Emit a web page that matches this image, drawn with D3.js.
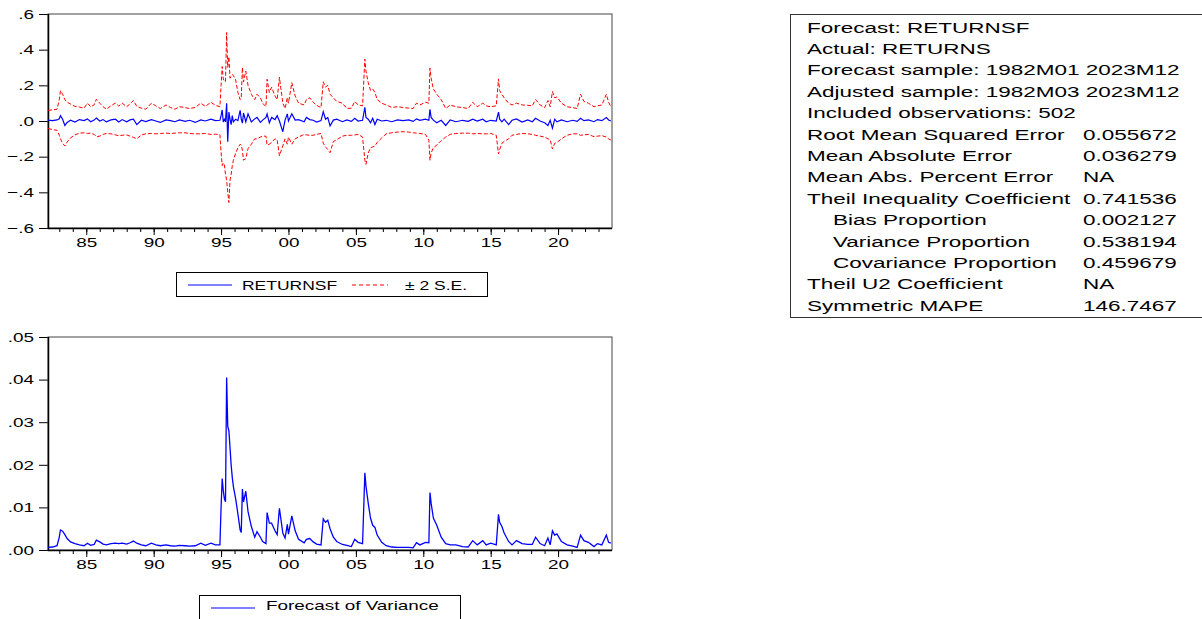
<!DOCTYPE html>
<html>
<head>
<meta charset="utf-8">
<script src="https://cdn.jsdelivr.net/npm/d3@7"></script>
<style>
  body { margin: 0; background: #fff; overflow: hidden; }
  svg text { font-family: "Liberation Sans", Arial, sans-serif; fill: #000; }
</style>
</head>
<body>
<svg id="chart" width="1202" height="619"></svg>
<script>
// monthly observations (sparser where the series is calm)
const months = [
  "1982-03","1982-07","1982-11","1983-01","1983-02","1983-04","1983-06","1983-08","1983-11","1984-03",
  "1984-07","1984-11","1985-02","1985-05","1985-08","1985-10","1986-01","1986-04","1986-07","1986-11",
  "1987-03","1987-06","1987-09","1988-01","1988-04","1988-07","1988-10","1989-02","1989-06","1989-11",
  "1990-03","1990-07","1990-12","1991-04","1991-08","1991-12","1992-05","1992-09","1993-02","1993-07",
  "1993-11","1994-04","1994-08","1994-12","1995-01","1995-02","1995-03","1995-04","1995-05","1995-06",
  "1995-07","1995-08","1995-09","1995-10","1995-11","1995-12","1996-02","1996-04","1996-06","1996-07",
  "1996-08","1996-09","1996-11","1997-01","1997-04","1997-07","1997-09","1997-12","1998-02","1998-05",
  "1998-06","1998-08","1998-10","1999-01","1999-03","1999-05","1999-08","1999-10","1999-12","2000-01",
  "2000-04","2000-07","2000-10","2001-03","2001-05","2001-08","2001-11","2002-02","2002-06","2002-08",
  "2002-10","2002-12","2003-02","2003-05","2003-08","2004-01","2004-05","2004-09","2004-12","2005-03",
  "2005-07","2005-09","2005-10","2005-12","2006-02","2006-04","2006-06","2006-08","2006-12","2007-04",
  "2007-09","2008-02","2008-07","2008-12","2009-04","2009-07","2009-10","2010-03","2010-06","2010-07",
  "2010-08","2010-10","2011-01","2011-05","2011-09","2012-01","2012-06","2012-12","2013-05","2013-09",
  "2014-01","2014-06","2014-09","2015-01","2015-06","2015-08","2015-09","2015-11","2016-01","2016-05",
  "2016-08","2016-12","2017-05","2017-10","2018-02","2018-05","2018-09","2019-01","2019-04","2019-06",
  "2019-08","2019-10","2019-12","2020-04","2020-09","2021-02","2021-06","2021-09","2021-12","2022-04",
  "2022-09","2022-12","2023-04","2023-08","2023-10","2023-12"
];

const returnsf = [
  0.005,0.002,0.006,0.012,0.030,0.010,-0.025,-0.008,0.004,-0.006,
  0.008,0.002,0.012,-0.004,0.005,0.016,0.000,0.008,-0.005,0.006,
  0.010,-0.006,0.008,-0.004,0.006,0.010,-0.020,0.004,-0.003,0.008,
  0.000,-0.008,0.006,0.002,-0.004,0.006,-0.002,0.004,-0.008,0.006,
  0.000,0.010,0.002,0.004,0.030,0.062,-0.005,0.010,-0.005,0.100,
  -0.116,0.050,0.010,-0.020,0.030,-0.005,0.010,0.002,0.060,0.010,
  -0.012,0.045,-0.005,0.040,-0.005,0.012,0.020,-0.008,0.005,0.020,
  0.040,-0.010,0.020,0.008,0.030,0.000,-0.060,0.005,0.040,0.000,
  0.040,0.005,0.008,-0.004,0.020,0.008,0.004,-0.006,0.002,0.052,
  0.010,0.020,-0.028,0.005,0.010,-0.004,0.006,-0.002,0.015,0.000,
  0.004,0.077,0.020,0.010,-0.010,0.015,-0.020,0.010,0.000,0.004,
  -0.004,0.006,0.002,0.006,-0.002,0.012,0.004,0.010,0.004,0.066,
  0.020,0.005,-0.010,0.004,-0.025,0.006,-0.004,0.004,-0.002,0.010,
  0.000,0.010,-0.004,0.004,0.000,0.050,0.010,-0.005,0.010,-0.020,
  0.004,0.012,-0.006,0.006,-0.004,0.015,0.000,-0.010,-0.025,0.004,
  -0.040,0.010,-0.005,0.006,-0.004,0.004,-0.002,0.015,0.002,0.006,
  -0.004,0.008,0.002,0.020,0.006,0.000
];

const upperSE = [
  0.060,0.062,0.066,0.120,0.170,0.150,0.120,0.105,0.095,0.082,
  0.078,0.072,0.100,0.080,0.090,0.122,0.100,0.080,0.066,0.086,
  0.100,0.084,0.100,0.080,0.096,0.115,0.082,0.072,0.066,0.100,
  0.085,0.070,0.090,0.076,0.066,0.080,0.075,0.070,0.076,0.100,
  0.082,0.105,0.088,0.080,0.200,0.305,0.235,0.225,0.220,0.496,
  0.300,0.360,0.240,0.250,0.260,0.255,0.230,0.160,0.120,0.130,
  0.300,0.220,0.280,0.200,0.150,0.120,0.150,0.130,0.100,0.080,
  0.234,0.160,0.190,0.140,0.120,0.245,0.100,0.070,0.130,0.100,
  0.215,0.140,0.100,0.090,0.120,0.130,0.105,0.088,0.075,0.220,
  0.190,0.200,0.150,0.130,0.110,0.100,0.070,0.072,0.110,0.090,
  0.085,0.347,0.280,0.215,0.172,0.180,0.160,0.120,0.100,0.090,
  0.076,0.080,0.076,0.072,0.070,0.100,0.090,0.105,0.100,0.296,
  0.240,0.180,0.150,0.120,0.070,0.090,0.080,0.075,0.070,0.105,
  0.080,0.100,0.085,0.080,0.085,0.236,0.170,0.150,0.130,0.100,
  0.090,0.100,0.090,0.088,0.085,0.120,0.090,0.075,0.115,0.080,
  0.165,0.130,0.135,0.100,0.080,0.075,0.070,0.150,0.110,0.100,
  0.080,0.085,0.090,0.150,0.105,0.080
];

const lowerSE = [
  -0.042,-0.048,-0.052,-0.080,-0.100,-0.125,-0.140,-0.118,-0.095,-0.078,
  -0.068,-0.066,-0.070,-0.068,-0.075,-0.088,-0.085,-0.075,-0.070,-0.072,
  -0.078,-0.082,-0.080,-0.078,-0.085,-0.092,-0.100,-0.078,-0.072,-0.070,
  -0.072,-0.070,-0.068,-0.070,-0.068,-0.066,-0.066,-0.070,-0.072,-0.072,
  -0.070,-0.075,-0.074,-0.076,-0.175,-0.250,-0.235,-0.245,-0.300,-0.330,
  -0.400,-0.457,-0.330,-0.300,-0.250,-0.220,-0.180,-0.150,-0.130,-0.135,
  -0.165,-0.220,-0.210,-0.155,-0.130,-0.100,-0.100,-0.090,-0.085,-0.085,
  -0.135,-0.130,-0.120,-0.100,-0.105,-0.195,-0.140,-0.100,-0.130,-0.090,
  -0.130,-0.100,-0.090,-0.075,-0.078,-0.080,-0.080,-0.075,-0.070,-0.125,
  -0.145,-0.160,-0.178,-0.115,-0.105,-0.085,-0.080,-0.080,-0.078,-0.075,
  -0.090,-0.220,-0.243,-0.180,-0.150,-0.145,-0.140,-0.120,-0.095,-0.072,
  -0.066,-0.062,-0.060,-0.062,-0.066,-0.068,-0.070,-0.075,-0.107,-0.220,
  -0.180,-0.150,-0.135,-0.110,-0.090,-0.075,-0.070,-0.068,-0.068,-0.072,
  -0.070,-0.072,-0.072,-0.070,-0.080,-0.185,-0.160,-0.125,-0.115,-0.100,
  -0.080,-0.075,-0.070,-0.072,-0.075,-0.080,-0.085,-0.090,-0.100,-0.105,
  -0.157,-0.125,-0.120,-0.100,-0.080,-0.072,-0.072,-0.080,-0.078,-0.075,
  -0.088,-0.085,-0.082,-0.090,-0.100,-0.107
];

const varianceF = [
  0.0006,0.0007,0.0010,0.0030,0.0047,0.0044,0.0036,0.0027,0.0019,0.0015,
  0.0012,0.0010,0.0016,0.0011,0.0013,0.0023,0.0019,0.0014,0.0012,0.0015,
  0.0016,0.0015,0.0016,0.0014,0.0017,0.0021,0.0016,0.0012,0.0010,0.0016,
  0.0012,0.0010,0.0012,0.0010,0.0009,0.0011,0.0010,0.0009,0.0010,0.0016,
  0.0011,0.0016,0.0012,0.0012,0.0100,0.0168,0.0140,0.0120,0.0113,0.0405,
  0.0290,0.0280,0.0240,0.0200,0.0170,0.0149,0.0120,0.0085,0.0047,0.0041,
  0.0143,0.0113,0.0138,0.0090,0.0055,0.0030,0.0043,0.0030,0.0020,0.0015,
  0.0088,0.0063,0.0063,0.0045,0.0036,0.0098,0.0040,0.0028,0.0060,0.0037,
  0.0080,0.0045,0.0025,0.0017,0.0025,0.0027,0.0019,0.0014,0.0012,0.0073,
  0.0065,0.0070,0.0050,0.0030,0.0020,0.0013,0.0011,0.0008,0.0025,0.0018,
  0.0015,0.0181,0.0150,0.0110,0.0075,0.0058,0.0053,0.0035,0.0018,0.0010,
  0.0007,0.0006,0.0006,0.0006,0.0005,0.0017,0.0012,0.0018,0.0017,0.0135,
  0.0110,0.0075,0.0058,0.0030,0.0015,0.0012,0.0012,0.0008,0.0007,0.0022,
  0.0012,0.0022,0.0012,0.0016,0.0012,0.0084,0.0065,0.0055,0.0040,0.0020,
  0.0012,0.0022,0.0015,0.0013,0.0013,0.0030,0.0015,0.0010,0.0028,0.0012,
  0.0045,0.0035,0.0038,0.0020,0.0012,0.0009,0.0006,0.0035,0.0022,0.0018,
  0.0008,0.0015,0.0012,0.0035,0.0018,0.0016
];

// axis ticks
const returnTicks = [0.6, 0.4, 0.2, 0, -0.2, -0.4, -0.6];
const varianceTicks = [0, 0.01, 0.02, 0.03, 0.04, 0.05];
const labelYears = [1985, 1990, 1995, 2000, 2005, 2010, 2015, 2020];
const yearLabels = ["85", "90", "95", "00", "05", "10", "15", "20"];

// forecast evaluation table
const statLabels = [
  "Forecast: RETURNSF", "Actual: RETURNS", "Forecast sample: 1982M01 2023M12",
  "Adjusted sample: 1982M03 2023M12", "Included observations: 502",
  "Root Mean Squared Error", "Mean Absolute Error", "Mean Abs. Percent Error",
  "Theil Inequality Coefficient", "Bias Proportion", "Variance Proportion",
  "Covariance Proportion", "Theil U2 Coefficient", "Symmetric MAPE"
];
const statValues = [
  "", "", "", "", "", "0.055672", "0.036279", "NA", "0.741536",
  "0.002127", "0.538194", "0.459679", "NA", "146.7467"
];
const statIndented = [false, false, false, false, false, false, false, false, false, true, true, true, false, false];

const SX = 1.4; // the picture is stretched horizontally
const parseMonth = d3.timeParse("%Y-%m");
const dates = months.map(parseMonth);

const svg = d3.select("#chart");

const x = d3.scaleTime()
  .domain([parseMonth("1982-03"), parseMonth("2024-01")])
  .range([48, 612]);

const yTop = d3.scaleLinear().domain([-0.6, 0.6]).range([228, 14]);
const yBot = d3.scaleLinear().domain([0, 0.05]).range([550, 337]);

const tickFmt = (digits) => (d) => d3.format("." + digits + "f")(d).replace("0.", ".");

function stretch(sel, dx) {
  sel.attr("x", null).attr("transform", `translate(${dx},0) scale(${SX},1)`);
}

function drawPanel(yScale, ticks, digits) {
  const [y0, y1] = yScale.range();
  const g = svg.append("g");

  // minor year ticks
  g.append("g")
    .attr("transform", `translate(0,${y0})`)
    .call(d3.axisBottom(x).tickValues(d3.range(1983, 2024).map(y => new Date(y, 0, 1))).tickSize(4).tickFormat(""))
    .call(a => a.select(".domain").remove());

  // labelled ticks every five years
  g.append("g")
    .attr("transform", `translate(0,${y0})`)
    .call(d3.axisBottom(x).tickValues(labelYears.map(y => new Date(y, 0, 1))).tickSize(7).tickPadding(2)
      .tickFormat((d, i) => yearLabels[i]))
    .call(a => a.select(".domain").remove())
    .call(a => a.selectAll("text").attr("font-size", 13.5).attr("font-family", null).call(stretch, 0));

  g.append("g")
    .attr("transform", "translate(48,0)")
    .call(d3.axisLeft(yScale).tickValues(ticks).tickSize(9).tickPadding(5).tickFormat(tickFmt(digits)))
    .call(a => a.select(".domain").remove())
    .call(a => a.selectAll("text").attr("font-size", 13.5).attr("font-family", null).call(stretch, -14));

  g.selectAll(".tick line").attr("stroke", "#000");

  // frame
  g.append("rect")
    .attr("x", 48).attr("y", y1)
    .attr("width", 612 - 48).attr("height", y0 - y1)
    .attr("fill", "none").attr("stroke", "#444").attr("stroke-width", 1);
  g.append("path")
    .attr("d", `M48.5,${y1}V${y0 + 0.5}H612`)
    .attr("fill", "none").attr("stroke", "#000").attr("stroke-width", 1.5);
  return g;
}

// top panel: forecast with +/- 2 S.E.
const topPanel = drawPanel(yTop, returnTicks, 1);
const lineTop = (vals) => d3.line().x((d, i) => x(dates[i])).y(d => yTop(d))(vals);

topPanel.append("g")
  .attr("fill", "none").attr("stroke", "#ff0000").attr("stroke-width", 1)
  .attr("stroke-dasharray", "4,2")
  .selectAll("path")
  .data([upperSE, lowerSE])
  .join("path")
  .attr("d", d => lineTop(d));

topPanel.append("path")
  .attr("fill", "none").attr("stroke", "#0000ff").attr("stroke-width", 1.2)
  .attr("d", lineTop(returnsf));

// bottom panel: forecast of variance
const bottomPanel = drawPanel(yBot, varianceTicks, 2);
bottomPanel.append("path")
  .attr("fill", "none").attr("stroke", "#0000ff").attr("stroke-width", 1.3)
  .attr("d", d3.line().x((d, i) => x(dates[i])).y(d => yBot(d))(varianceF));

// legends
function stretchedText(parent, x0, y0, str, size, anchor) {
  return parent.append("text")
    .attr("transform", `translate(${x0},${y0}) scale(${SX},1)`)
    .attr("text-anchor", anchor || "start")
    .attr("font-size", size)
    .text(str);
}

const leg1 = svg.append("g");
leg1.append("rect").attr("x", 176.5).attr("y", 272.5).attr("width", 311).attr("height", 24)
  .attr("fill", "#fff").attr("stroke", "#000");
leg1.append("line").attr("x1", 188).attr("x2", 232).attr("y1", 285).attr("y2", 285)
  .attr("stroke", "#0000ff").attr("stroke-width", 1);
stretchedText(leg1, 242, 290, "RETURNSF", 12.5);
leg1.append("line").attr("x1", 352).attr("x2", 388).attr("y1", 285).attr("y2", 285)
  .attr("stroke", "#ff0000").attr("stroke-width", 1).attr("stroke-dasharray", "4,3");
stretchedText(leg1, 405, 290, "\u00B1 2 S.E.", 12.5);

const leg2 = svg.append("g");
leg2.append("rect").attr("x", 199.5).attr("y", 595.5).attr("width", 261).attr("height", 40)
  .attr("fill", "#fff").attr("stroke", "#000");
leg2.append("line").attr("x1", 211).attr("x2", 255).attr("y1", 608).attr("y2", 608)
  .attr("stroke", "#0000ff").attr("stroke-width", 1);
stretchedText(leg2, 266, 610, "Forecast of Variance", 13.5);

// statistics table (its right edge runs off the picture)
const table = svg.append("g");
table.append("rect").attr("x", 790.5).attr("y", 14.5).attr("width", 600).attr("height", 303)
  .attr("fill", "#fff").attr("stroke", "#333");
const SXT = 1.48;
statLabels.forEach((lab, i) => {
  const yy = 32.5 + i * 21.4;
  table.append("text")
    .attr("transform", `translate(${statIndented[i] ? 833 : 807},${yy}) scale(${SXT},1)`)
    .attr("font-size", 15.2).text(lab);
  if (statValues[i]) {
    table.append("text")
      .attr("transform", `translate(1083,${yy}) scale(${SXT},1)`)
      .attr("font-size", 15.2).text(statValues[i]);
  }
});
</script>
</body>
</html>
